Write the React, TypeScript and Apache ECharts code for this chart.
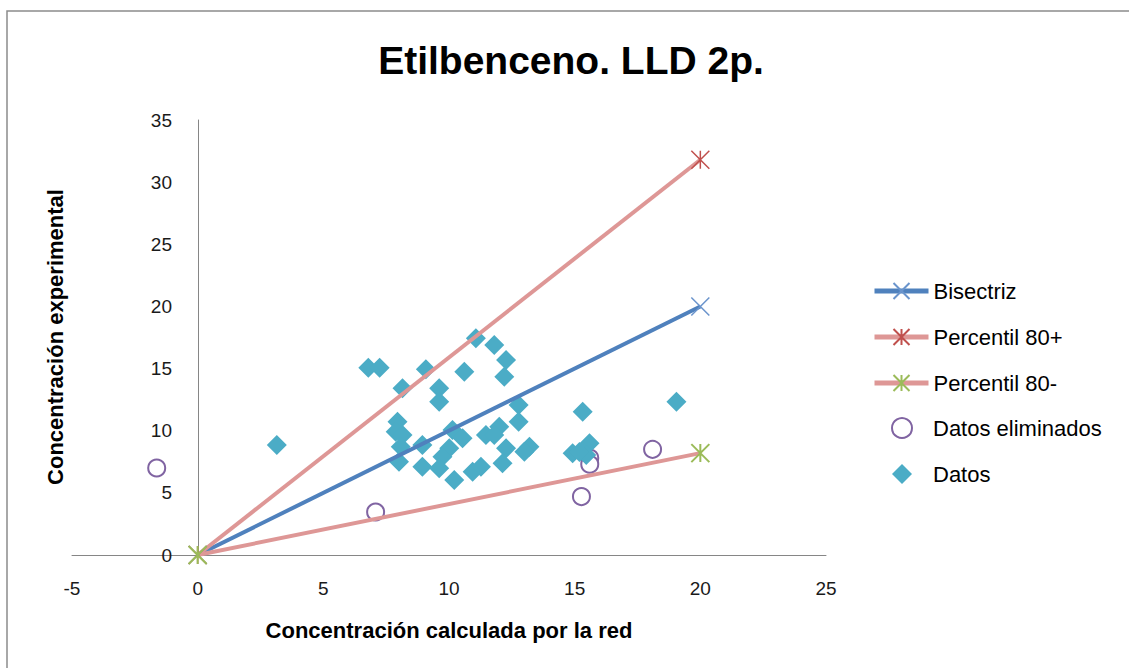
import React, { useEffect, useRef } from "react";
import * as echarts from "echarts";

const titleText = "Etilbenceno. LLD 2p.";
const xAxisTitle = "Concentración calculada por la red";
const yAxisTitle = "Concentración experimental";

const lineLegend = ["Bisectriz", "Percentil 80+", "Percentil 80-"];
const pointLegend = ["Datos eliminados", "Datos"];

const bisectriz: number[][] = [[0, 0], [20, 20]];
const percentil80Plus: number[][] = [[0, 0], [20, 31.8]];
const percentil80Minus: number[][] = [[0, 0], [20, 8.2]];

const datosEliminados: number[][] = [
  [-1.63, 7.0], [7.08, 3.46], [15.6, 7.8], [15.6, 7.3], [18.1, 8.5], [15.27, 4.7],
];

const datos: number[][] = [
  [3.15, 8.85], [6.79, 15.07], [7.24, 15.07], [11.07, 17.43], [11.8, 16.89], [12.27, 15.69],
  [12.2, 14.34], [10.61, 14.75], [9.08, 14.94], [8.15, 13.41], [9.61, 13.41], [9.61, 12.33],
  [12.77, 12.07], [12.77, 10.72], [7.95, 10.72], [7.88, 9.92], [8.15, 9.65], [8.08, 8.71],
  [8.01, 7.51], [8.94, 8.85], [8.94, 7.1], [10.14, 10.06], [10.54, 9.39], [10.01, 8.58],
  [9.74, 7.91], [9.61, 6.98], [10.21, 6.03], [10.94, 6.7], [11.27, 7.1], [11.47, 9.65],
  [12.0, 10.32], [12.27, 8.58], [12.13, 7.38], [13.2, 8.71], [11.8, 9.65], [15.32, 11.53],
  [19.05, 12.33], [14.92, 8.18], [15.59, 8.99], [15.46, 8.05], [15.19, 8.29], [13.0, 8.3],
];

const FONT = "'Liberation Sans', 'DejaVu Sans', sans-serif";
const X_PATH = "path://M0 0 L20 20 M20 0 L0 20";
const STAR_PATH = "path://M0 0 L20 20 M20 0 L0 20 M10 0 L10 20";

export default function App() {
  const ref = useRef<HTMLDivElement>(null);
  useEffect(() => {
    if (!ref.current) return;
    const chart = echarts.init(ref.current, undefined, { renderer: "svg" });
    chart.setOption({
      animation: false,
      backgroundColor: "#ffffff",
      graphic: [
        {
          type: "rect",
          shape: { x: 7, y: 11, width: 1300, height: 800 },
          style: { fill: "none", stroke: "#8c8c8c", lineWidth: 1.5 },
          silent: true,
        },
        {
          type: "text",
          x: 571,
          y: 60,
          style: {
            text: titleText,
            fontFamily: FONT,
            fontSize: 39,
            fontWeight: "bold",
            fill: "#000",
            align: "center",
            verticalAlign: "middle",
          },
        },
        {
          type: "text",
          x: 55,
          y: 337,
          rotation: Math.PI / 2,
          style: {
            text: yAxisTitle,
            fontFamily: FONT,
            fontSize: 22,
            fontWeight: "bold",
            fill: "#000",
            align: "center",
            verticalAlign: "middle",
          },
        },
        {
          type: "text",
          x: 449,
          y: 630,
          style: {
            text: xAxisTitle,
            fontFamily: FONT,
            fontSize: 22,
            fontWeight: "bold",
            fill: "#000",
            align: "center",
            verticalAlign: "middle",
          },
        },
      ],
      legend: [
        {
          orient: "vertical",
          left: 867,
          top: 275,
          itemWidth: 54,
          itemHeight: 20,
          itemGap: 24,
          lineStyle: { width: 5 },
          textStyle: { fontFamily: FONT, fontSize: 22, color: "#000", lineHeight: 21 },
          data: lineLegend,
        },
        {
          orient: "vertical",
          left: 886,
          top: 412,
          itemWidth: 20,
          itemHeight: 20,
          itemGap: 24,
          textStyle: { fontFamily: FONT, fontSize: 22, color: "#000", lineHeight: 21, padding: [0, 0, 0, 16] },
          data: pointLegend,
        },
      ],
      grid: { left: 72, top: 120, width: 754, height: 435, containLabel: false },
      xAxis: {
        type: "value",
        min: -5,
        max: 25,
        interval: 5,
        axisLine: { onZero: true, lineStyle: { color: "#868686", width: 1 } },
        axisTick: { show: false },
        splitLine: { show: false },
        axisLabel: { margin: 24, fontFamily: FONT, fontSize: 19, color: "#1a1a1a" },
      },
      yAxis: {
        type: "value",
        min: 0,
        max: 35,
        interval: 5,
        offset: -126,
        axisLine: { show: true, onZero: false, lineStyle: { color: "#868686", width: 1 } },
        axisTick: { show: false },
        splitLine: { show: false },
        axisLabel: { margin: 26, fontFamily: FONT, fontSize: 19, color: "#1a1a1a" },
      },
      series: [
        {
          name: "Bisectriz",
          type: "line",
          data: bisectriz,
          showSymbol: true,
          symbol: X_PATH,
          symbolSize: 18,
          lineStyle: { color: "#4F81BD", width: 4 },
          itemStyle: { color: "none", borderColor: "#6A94CC", borderWidth: 1.5 },
        },
        {
          name: "Percentil 80+",
          type: "line",
          data: percentil80Plus,
          showSymbol: true,
          symbol: STAR_PATH,
          symbolSize: 18,
          lineStyle: { color: "#DE9796", width: 4 },
          itemStyle: { color: "none", borderColor: "#C0504D", borderWidth: 1.5 },
        },
        {
          name: "Percentil 80-",
          type: "line",
          data: percentil80Minus,
          showSymbol: true,
          symbol: STAR_PATH,
          symbolSize: 18,
          lineStyle: { color: "#DE9796", width: 4 },
          itemStyle: { color: "none", borderColor: "#9BBB59", borderWidth: 2 },
        },
        {
          name: "Datos eliminados",
          type: "scatter",
          data: datosEliminados,
          symbol: "circle",
          symbolSize: 17,
          itemStyle: { color: "#ffffff", borderColor: "#8064A2", borderWidth: 2, opacity: 1 },
        },
        {
          name: "Datos",
          type: "scatter",
          data: datos,
          symbol: "diamond",
          symbolSize: 20,
          itemStyle: { color: "#4BACC6", opacity: 1 },
        },
      ],
    });
    return () => chart.dispose();
  }, []);
  return (
    <div
      ref={ref}
      style={{ position: "absolute", left: 0, top: 0, width: 1129, height: 668, background: "#fff" }}
    />
  );
}
